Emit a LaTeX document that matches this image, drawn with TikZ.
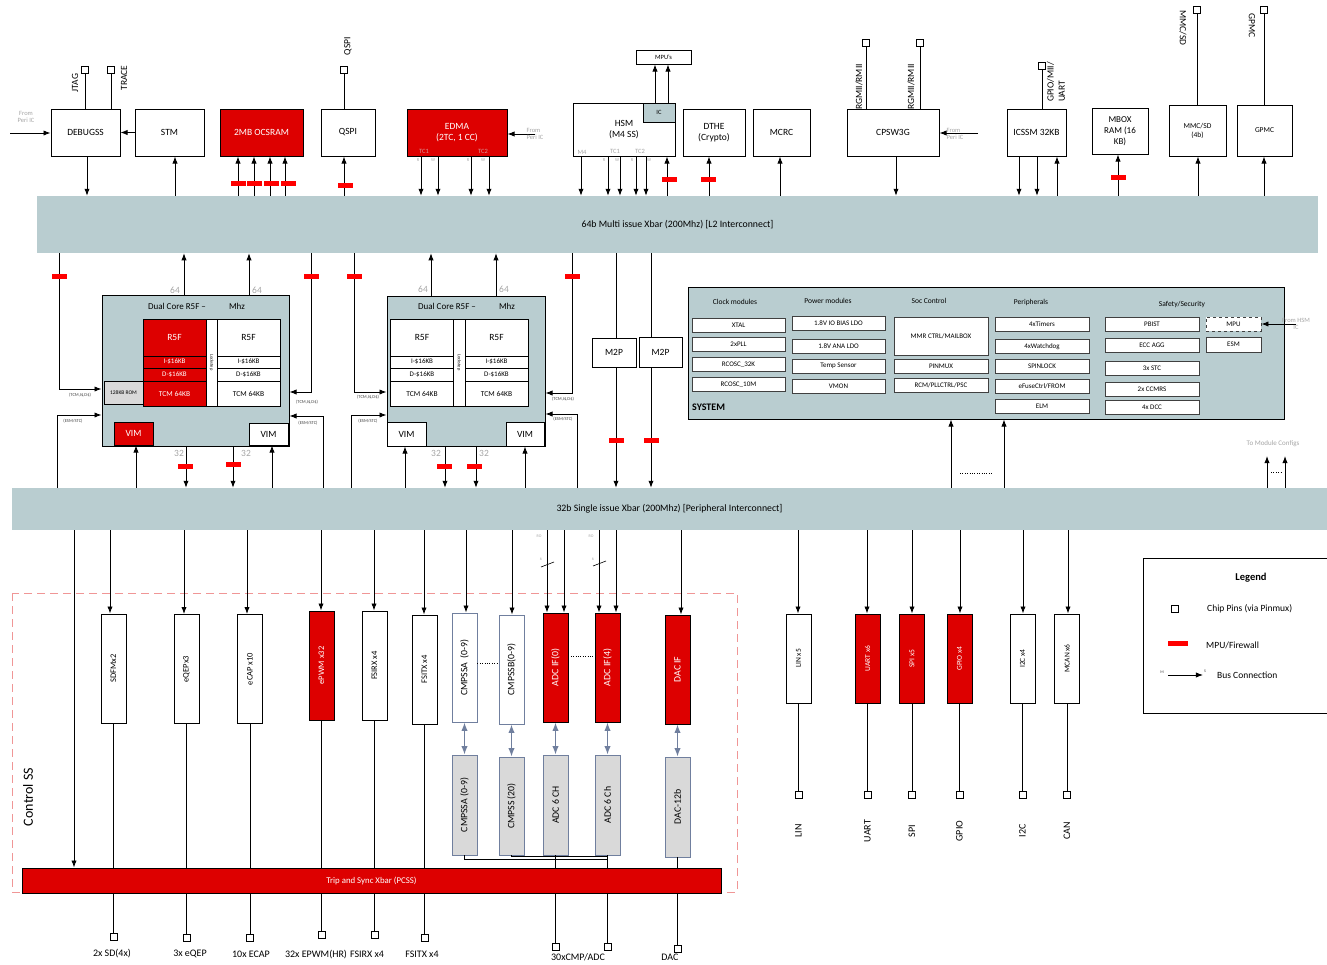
\documentclass[tikz,border=0pt]{standalone}
\usepackage{graphicx}
\usepackage{fontspec}
\setmainfont{Carlito}
\usetikzlibrary{arrows.meta, positioning}

\definecolor{xbarblue}{RGB}{185,205,208}
\definecolor{ipred}{RGB}{221,0,0}
\definecolor{fwred}{RGB}{255,0,0}
\definecolor{notegray}{RGB}{165,165,165}
\definecolor{tcgray}{RGB}{215,150,150}
\definecolor{anagray}{RGB}{217,217,217}
\definecolor{slate}{RGB}{112,127,158}
\definecolor{sspink}{RGB}{240,150,150}

\newcommand{\fsz}[1]{\fontsize{#1}{\the\dimexpr#1pt*6/5\relax}\selectfont}

\begin{document}
\begin{tikzpicture}[
    x=1pt, y=-1pt, % one unit is one pixel of the layout, y grows downward
    >=Latex, % Arrow tip for all buses
    bus/.style={->, line width=0.9pt}, % Bus connection
    wire/.style={line width=0.9pt}, % Plain connection
    blk/.style={draw, fill=white, line width=0.9pt, align=center, inner sep=1pt, font=\fsz{9.5}}, % IP block
    redblk/.style={blk, fill=ipred, text=white}, % Block behind a firewall
    xbarstyle/.style={fill=xbarblue, inner sep=0pt, font=\fsz{9.8}}, % Interconnect
    cell/.style={draw, fill=white, line width=0.7pt, inner sep=0pt, font=\fsz{7}}, % Core memory cell
    redcell/.style={cell, fill=ipred, text=white},
    sysbox/.style={draw=black!75, fill=white, line width=0.6pt, inner sep=0pt, minimum width=93pt, minimum height=14pt, font=\fsz{7}}, % System module
    syshead/.style={font=\fsz{7.5}, inner sep=0pt}, % System column title
    vblk/.style={blk, minimum width=25pt, minimum height=109pt, font=\fsz{8.5}}, % Vertical peripheral
    vred/.style={vblk, fill=ipred, text=white},
    anablk/.style={vblk, draw=slate, fill=anagray, minimum height=100pt, font=\fsz{9.8}}, % Analog block
    pinsq/.style={draw, fill=white, line width=0.8pt, minimum size=7pt, inner sep=0pt}, % Chip pin
    pinlbl/.style={font=\fsz{9.5}, inner sep=0pt}, % Pin label
    graynote/.style={text=notegray, font=\fsz{6.5}, inner sep=0pt, align=left}, % Gray note
    sidelbl/.style={text=black!75, font=\fsz{4.5}, inner sep=0pt} % Tiny side label
]

    \useasboundingbox (0,0) rectangle (1327,964);

    % Interconnects
    \node[xbarstyle, minimum width=1281pt, minimum height=57pt] (l2) at (677.5,224.5) {64b Multi issue Xbar (200Mhz) [L2 Interconnect]};
    \node[xbarstyle, minimum width=1315pt, minimum height=42pt] (pbar) at (669.5,509) {32b Single issue Xbar (200Mhz) [Peripheral Interconnect]};

    % Top IP blocks
    \node[blk, minimum width=69pt, minimum height=47pt] (debug) at (85.5,132.5) {DEBUGSS};
    \node[blk, minimum width=69pt, minimum height=47pt] (stm) at (169.5,132.5) {STM};
    \node[redblk, minimum width=83pt, minimum height=47pt] (ocsram) at (261.5,132.5) {2MB OCSRAM};
    \node[blk, minimum width=54pt, minimum height=47pt] (qspi) at (348,132.5) {QSPI};
    \node[redblk, minimum width=100pt, minimum height=47pt] (edma) at (457,132.5) {EDMA\\(2TC, 1 CC)};
    \node[blk, minimum width=102pt, minimum height=53pt] (hsm) at (624,129.5) {HSM\\(M4 SS)};
    \node[blk, fill=xbarblue, minimum width=32pt, minimum height=19pt, font=\fsz{6.5}, anchor=north east] (ic) at (hsm.north east) {IC};
    \node[blk, minimum width=55pt, minimum height=14pt, font=\fsz{6.5}] (mpus) at (663.5,57) {MPU's};
    \node[blk, minimum width=62pt, minimum height=47pt] (dthe) at (714,132.5) {DTHE\\(Crypto)};
    \node[blk, minimum width=57pt, minimum height=47pt] (mcrc) at (781.5,132.5) {MCRC};
    \node[blk, minimum width=92pt, minimum height=47pt] (cpsw) at (893,132.5) {CPSW3G};
    \node[blk, minimum width=59pt, minimum height=47pt] (icssm) at (1036.5,132.5) {ICSSM 32KB};
    \node[blk, minimum width=56pt, minimum height=46pt, font=\fsz{9}] (mbox) at (1120,131) {MBOX\\RAM (16\\KB)};
    \node[blk, minimum width=57pt, minimum height=51pt, font=\fsz{7.5}] (mmc) at (1197.5,130.5) {MMC/SD\\(4b)};
    \node[blk, minimum width=55pt, minimum height=51pt, font=\fsz{7.5}] (gpmc) at (1264.5,130.5) {GPMC};

    % Port labels on EDMA and HSM
    \node[graynote, text=tcgray] (etc1) at (424,151) {TC1};
    \node[graynote, text=tcgray] (etc2) at (483,151) {TC2};
    \node[graynote] (hm4) at (582,152) {M4};
    \node[graynote] (htc1) at (615,151) {TC1};
    \node[graynote] (htc2) at (640,151) {TC2};
    \foreach \x/\t [count=\i] in {418/R, 433/W, 468/R, 483/W, 604/R, 617/W, 632/R, 649/W}
        \node[graynote, font=\fsz{4.5}] (rw\i) at (\x,160) {\t};

    % Top pins
    \node[pinsq] (pjtag) at (85,70) {};
    \node[pinsq] (ptrace) at (111,70) {};
    \node[pinsq] (pqspi) at (344,70) {};
    \node[pinsq] (prga) at (866,43) {};
    \node[pinsq] (prgb) at (920,43) {};
    \node[pinsq] (pgpio) at (1042,66) {};
    \node[pinsq] (pmmc) at (1197,10) {};
    \node[pinsq] (pgpmc) at (1264,10) {};
    \foreach \p/\b in {pjtag/debug, ptrace/debug, pqspi/qspi, prga/cpsw, prgb/cpsw, pgpio/icssm, pmmc/mmc, pgpmc/gpmc}
        \draw[wire] (\p) -- (\b.north -| \p);

    \node[pinlbl, rotate=90] (ljtag) at (75,83) {JTAG};
    \node[pinlbl, rotate=90] (ltrace) at (124,78) {TRACE};
    \node[pinlbl, rotate=90] (lqspi) at (348,46) {QSPI};
    \node[pinlbl, rotate=90] (lrga) at (859,87) {RGMII/RMII};
    \node[pinlbl, rotate=90] (lrgb) at (911,87) {RGMII/RMII};
    \node[pinlbl, rotate=90, align=left] (lgpio) at (1056,82) {GPIO/MII/\\UART};
    \node[pinlbl, rotate=-90] (lmmc) at (1183,28) {MMC/SD};
    \node[pinlbl, rotate=-90] (lgpmc) at (1252,26) {GPMC};

    % Side inputs
    \coordinate (peria) at (10,133);
    \coordinate (perib) at (535,134);
    \coordinate (peric) at (978,133);
    \draw[bus] (peria) -- (debug.west |- peria);
    \draw[bus] (perib) -- (edma.east |- perib);
    \draw[bus] (peric) -- (cpsw.east |- peric);
    \draw[bus] (stm.west) -- (debug.east);
    \node[graynote, align=center] (peritxta) at (26,117) {From\\Peri IC};
    \node[graynote] (peritxtb) at (535,134) {From\\Peri IC};
    \node[graynote] (peritxtc) at (955,134) {From\\Peri IC};

    % Masters into L2
    \foreach \b/\x in {debug/87, edma/421, edma/438, edma/471, edma/489, hsm/581, hsm/608, hsm/620, hsm/636, hsm/646, cpsw/896, icssm/1019, icssm/1037}
        \draw[bus] (\b.south -| \x,0) -- (l2.north -| \x,0);
    % Slaves on L2
    \foreach \b/\x in {stm/175, ocsram/238, ocsram/254, ocsram/270, ocsram/285, qspi/344, hsm/667, dthe/709, mcrc/780, icssm/1057, mbox/1118, mmc/1198, gpmc/1264}
        \draw[bus] (l2.north -| \x,0) -- (\b.south -| \x,0);
    \foreach \x in {655,668}
        \draw[bus] (ic.north -| \x,0) -- (mpus.south -| \x,0);

    % Dual core clusters
    \node[blk, fill=xbarblue, minimum width=187pt, minimum height=151pt] (r5a) at (195.5,370.5) {};
    \node[blk, fill=xbarblue, minimum width=158pt, minimum height=150pt] (r5b) at (466,371) {};
    \node[font=\fsz{9}] (r5atitle) at (177,306) {Dual Core R5F –};
    \node[font=\fsz{9}] (r5amhz) at (237,306) {Mhz};
    \node[font=\fsz{9}] (r5btitle) at (447,306) {Dual Core R5F –};
    \node[font=\fsz{9}] (r5bmhz) at (507,306) {Mhz};

    \foreach \nm/\cx/\st in {ca/174.5/redcell, cb/248.5/cell, cc/422/cell, cd/496.5/cell} {
        \node[\st, minimum width=63pt, minimum height=37pt, font=\fsz{9.5}] (core\nm) at (\cx,337.5) {R5F};
        \node[\st, minimum width=63pt, minimum height=12pt] (icache\nm) at (\cx,362) {I-\$16KB};
        \node[\st, minimum width=63pt, minimum height=13pt] (dcache\nm) at (\cx,374.5) {D-\$16KB};
        \node[\st, minimum width=63pt, minimum height=25pt, font=\fsz{7.5}] (tcm\nm) at (\cx,393.5) {TCM 64KB};
    }
    \node[cell, minimum width=11pt, minimum height=87pt, font=\fsz{4.5}] (locka) at (211.5,362.5) {\rotatebox{-90}{Lockstep}};
    \node[cell, minimum width=12pt, minimum height=87pt, font=\fsz{4.5}] (lockb) at (459,362.5) {\rotatebox{-90}{Lockstep}};
    \node[cell, fill=anagray, line width=0.9pt, minimum width=39pt, minimum height=23pt, font=\fsz{5.5}] (rom) at (123.5,392.5) {128KB ROM};

    \node[redblk, minimum width=39pt, minimum height=23pt] (vima) at (133.5,433.5) {VIM};
    \node[blk, minimum width=39pt, minimum height=22pt] (vimb) at (268.5,434) {VIM};
    \node[blk, minimum width=39pt, minimum height=24pt] (vimc) at (406.5,434) {VIM};
    \node[blk, minimum width=38pt, minimum height=24pt] (vimd) at (525,434) {VIM};

    % Bus widths
    \foreach \x/\y/\t [count=\i] in {175/290/64, 257/290/64, 423/289/64, 504/289/64, 179/453/32, 246/453/32, 436/453/32, 484/453/32}
        \node[graynote, font=\fsz{9.5}] (bw\i) at (\x,\y) {\t};

    % Cluster buses
    \foreach \c/\x in {r5a/184, r5a/249, r5b/431, r5b/496}
        \draw[bus] (\c.north -| \x,0) -- (l2.south -| \x,0);
    \foreach \c/\x in {r5a/186, r5a/233, r5b/445, r5b/476}
        \draw[bus] (\c.south -| \x,0) -- (pbar.north -| \x,0);
    \foreach \v/\x in {vima/136, vimb/272, vimc/405, vimd/525}
        \draw[bus] (pbar.north -| \x,0) -- (\v.south -| \x,0);
    \foreach \c/\x/\y/\a in {r5a/59/389/west, r5a/311/392/east, r5b/354/392/west, r5b/572/393/east}
        \draw[bus] (l2.south -| \x,0) |- (\c.\a |- 0,\y);
    \foreach \c/\x/\y/\a in {r5a/57/415/west, r5a/323/416/east, r5b/351/415/west, r5b/577/414/east}
        \draw[bus] (pbar.north -| \x,0) |- (\c.\a |- 0,\y);
    \foreach \x/\y/\t [count=\i] in {80/395/{(TCM,I\$,D\$)}, 307/402/{(TCM,I\$,D\$)}, 368/397/{(TCM,I\$,D\$)}, 563/399/{(TCM,I\$,D\$)}, 73/421/{(ESM/STC)}, 308/423/{(ESM/STC)}, 368/421/{(ESM/STC)}, 563/419/{(ESM/STC)}}
        \node[sidelbl] (side\i) at (\x,\y) {\t};

    % M2P bridges
    \node[blk, minimum width=44pt, minimum height=29pt] (m2pa) at (614,352.5) {M2P};
    \node[blk, minimum width=43pt, minimum height=30pt] (m2pb) at (660.5,352) {M2P};
    \foreach \m/\x in {m2pa/616, m2pb/651} {
        \draw[wire] (l2.south -| \x,0) -- (\m.north -| \x,0);
        \draw[bus] (\m.south -| \x,0) -- (pbar.north -| \x,0);
    }

    % System block
    \node[blk, fill=xbarblue, minimum width=596pt, minimum height=132pt] (sys) at (986,353) {};
    \node[font=\bfseries\fsz{10}, anchor=west, inner sep=0pt] (systitle) at (692,407) {SYSTEM};
    \foreach \x/\y/\t [count=\i] in {735/302/Clock modules, 828/301/Power modules, 929/301/Soc Control, 1031/302/Peripherals, 1182/304/{Safety/Security}}
        \node[syshead] (head\i) at (\x,\y) {\t};
    \foreach \y/\t [count=\i] in {325/XTAL, 344.5/2xPLL, 364.5/RCOSC\_32K, 384.5/RCOSC\_10M}
        \node[sysbox] (clk\i) at (738.5,\y) {\t};
    \foreach \y/\t [count=\i] in {323.5/1.8V IO BIAS LDO, 346.5/1.8V ANA LDO, 366/Temp Sensor, 386/VMON}
        \node[sysbox] (pwr\i) at (838.5,\y) {\t};
    \node[sysbox, minimum width=94pt, minimum height=38pt] (soc1) at (941,336) {MMR CTRL/MAILBOX};
    \foreach \y/\t [count=\i from 2] in {366/PINMUX, 385/{RCM/PLLCTRL/PSC}}
        \node[sysbox, minimum width=94pt] (soc\i) at (941,\y) {\t};
    \foreach \y/\t [count=\i] in {324/4xTimers, 346.5/4xWatchdog, 366/SPINLOCK, 386.5/{eFuseCtrl/FROM}, 406/ELM}
        \node[sysbox, minimum width=94pt] (per\i) at (1042,\y) {\t};
    \foreach \y/\t [count=\i] in {324/PBIST, 345/ECC AGG, 368/3x STC, 389/2x CCMRS, 407/4x DCC}
        \node[sysbox, minimum width=94pt] (saf\i) at (1152,\y) {\t};
    \node[sysbox, dashed, line width=0.8pt, minimum width=55pt] (smpu) at (1233.5,324) {MPU};
    \node[sysbox, minimum width=55pt, minimum height=15pt] (sesm) at (1233.5,344.5) {ESM};
    \coordinate (hsmic) at (1296,324);
    \draw[bus] (hsmic) -- (smpu.east);
    \node[graynote, align=center] (hsmtxt) at (1296,324) {From HSM\\IC};

    \foreach \x in {951,1004}
        \draw[bus] (pbar.north -| \x,0) -- (sys.south -| \x,0);
    \draw[dotted] (960,473) -- (993,473);
    \coordinate (cfg) at (1276,456);
    \foreach \x in {1267,1285}
        \draw[bus] (pbar.north -| \x,0) -- (cfg -| \x,0);
    \draw[dotted] (1271,472) -- (1281,472);
    \node[graynote, font=\fsz{7}] (cfgtxt) at (1273,444) {To Module Configs};

    % Firewalls
    \foreach \x/\y in {238/183, 254/183, 271/183, 288/183, 345/185, 669/179, 708/179, 1118/177, 59/276, 311/276, 354/276, 572/276, 185/466, 233/464, 444/466, 474/466, 616/440, 651/440}
        \fill[fwred] (\x-7.5,\y-2.5) rectangle (\x+7.5,\y+2.5);

    % Control subsystem
    \draw[sspink, dash pattern=on 8pt off 5pt, line width=0.9pt] (12,593) rectangle (737,892);
    \node[rotate=90, font=\fsz{14}] (ctrlss) at (28,797) {Control SS};

    \node[vblk] (sdfm) at (113.5,668.5) {\rotatebox{90}{SDFMx2}};
    \node[vblk] (eqep) at (186.5,669) {\rotatebox{90}{eQEPx3}};
    \node[vblk] (ecap) at (250,669) {\rotatebox{90}{eCAP x10}};
    \node[vred] (epwm) at (321.5,665.5) {\rotatebox{90}{ePWM x32}};
    \node[vblk] (fsirx) at (374.5,665.5) {\rotatebox{90}{FSIRX x4}};
    \node[vblk] (fsitx) at (424.5,669.5) {\rotatebox{90}{FSITX x4}};
    \node[vblk, draw=slate, font=\fsz{9.8}] (cmpa) at (464.5,667.5) {\rotatebox{90}{CMPSSA\ \ (0-9)}};
    \node[vblk, draw=slate, font=\fsz{9.8}] (cmpb) at (511.5,669.5) {\rotatebox{90}{CMPSSB(0-9)}};
    \node[vred, font=\fsz{9.8}] (adca) at (555.5,667.5) {\rotatebox{90}{ADC IF(0)}};
    \node[vred, font=\fsz{9.8}] (adcb) at (607.5,667.5) {\rotatebox{90}{ADC IF(4)}};
    \node[vred, font=\fsz{9.8}] (dacif) at (677.5,669.5) {\rotatebox{90}{DAC IF}};
    \draw[dotted] (cmpa.east |- 0,663) -- (cmpb.west |- 0,663);
    \draw[dotted] (adca.east |- 0,656) -- (adcb.west |- 0,656);

    \node[anablk] (gcmpa) at (464.5,805) {\rotatebox{90}{CMPSSA (0-9)}};
    \node[anablk, minimum height=98pt] (gcmps) at (511.5,806) {\rotatebox{90}{CMPSS (20)}};
    \node[anablk] (gadca) at (555.5,805) {\rotatebox{90}{ADC 6 CH}};
    \node[anablk] (gadcb) at (607.5,805) {\rotatebox{90}{ADC 6 Ch}};
    \node[anablk] (gdac) at (677.5,807) {\rotatebox{90}{DAC-12b}};
    \foreach \a/\b in {cmpa/gcmpa, cmpb/gcmps, adca/gadca, adcb/gadcb, dacif/gdac}
        \draw[<->, slate, line width=1.2pt] (\a.south) -- (\b.north);

    % Right peripherals
    \foreach \b/\x/\st/\t in {lin/798.5/vblk/LIN x5, uart/867.5/vred/UART x6, spi/912/vred/SPI x5, gpio/959.5/vred/GPIO x4, i2c/1022.5/vblk/I2C x4, mcan/1067/vblk/MCAN x6}
        \node[\st, minimum height=89pt, font=\fsz{7.5}] (\b) at (\x,658.5) {\rotatebox{90}{\t}};

    % Peripheral xbar to peripherals
    \foreach \b/\x in {sdfm/110, eqep/184, ecap/247, epwm/321, fsirx/374, fsitx/424, cmpa/466, cmpb/512, adca/547, adca/564, adcb/599, adcb/616, dacif/681, lin/798, uart/867, spi/912, gpio/960, i2c/1023, mcan/1068}
        \draw[bus] (pbar.south -| \x,0) -- (\b.north -| \x,0);
    \node[graynote, font=\fsz{4}] (roa) at (539,536) {RO};
    \node[graynote, font=\fsz{4}] (rob) at (591,536) {RO};
    \node[graynote, font=\fsz{4}] (sixa) at (541,559) {6};
    \node[graynote, font=\fsz{4}] (sixb) at (593,559) {6};
    \draw[line width=0.6pt] (541,567) -- (554,562);
    \draw[line width=0.6pt] (593,566) -- (606,561);

    % Bottom pins
    \foreach \b/\x/\y in {sdfm/113.5/937, eqep/186.5/938, ecap/250/938, epwm/321.5/935, fsirx/374.5/935, fsitx/424.5/938, gadca/555.5/947, gadcb/607.5/947, gdac/677.5/949, lin/798.5/795, uart/867.5/795, spi/912/795, gpio/959.5/795, i2c/1022.5/795, mcan/1067/795} {
        \node[pinsq] (p\b) at (\x,\y) {};
        \draw[wire] (\b.south) -- (p\b);
    }
    \draw[line width=0.8pt] (gcmpa.south) |- (gadcb.south |- 0,859);
    \draw[line width=0.8pt] (gcmps.south) |- (gadcb.south |- 0,856);

    \foreach \x/\y/\t [count=\i] in {112/954/2x SD(4x), 190/954/3x eQEP, 251/954/10x ECAP, 316/955/32x EPWM(HR), 367/954/FSIRX x4, 422/954/FSITX x4, 578/957.5/{30xCMP/ADC}, 670/957.5/DAC}
        \node[pinlbl, font=\fsz{10}] (plbl\i) at (\x,\y) {\t};
    \foreach \b/\t in {lin/LIN, uart/UART, spi/SPI, gpio/GPIO, i2c/I2C, mcan/CAN}
        \node[pinlbl, font=\fsz{10}, rotate=90] (l\b) at (p\b |- 0,831) {\t};

    % Trip and sync xbar
    \node[redblk, minimum width=699pt, minimum height=25pt, font=\fsz{8.8}] (trip) at (371.5,880.5) {Trip and Sync Xbar (PCSS)};
    \draw[bus] (pbar.south -| 74,0) -- (trip.north -| 74,0);

    % Legend
    \node[draw, line width=0.8pt, minimum width=190pt, minimum height=155pt, anchor=north west] (legend) at (1143,558) {};
    \node[font=\bfseries\fsz{10.5}] (legtitle) at (1251,578) {Legend};
    \node[pinsq] (legpin) at (1175,609) {};
    \node[pinlbl, anchor=west] (legpintxt) at (1207,609) {Chip Pins (via Pinmux)};
    \fill[fwred] (1168,641) rectangle (1188,646);
    \node[pinlbl, anchor=west] (legfwtxt) at (1206,645) {MPU/Firewall};
    \coordinate (legm) at (1168,675);
    \coordinate (legs) at (1203,675);
    \draw[bus] (legm) -- (legs);
    \node[sidelbl, font=\fsz{4}] (legmtxt) at (1162,672) {M};
    \node[sidelbl, font=\fsz{4}] (legstxt) at (1205,671) {S};
    \node[pinlbl, anchor=west] (legbus) at (1217,675) {Bus Connection};

\end{tikzpicture}
\end{document}
